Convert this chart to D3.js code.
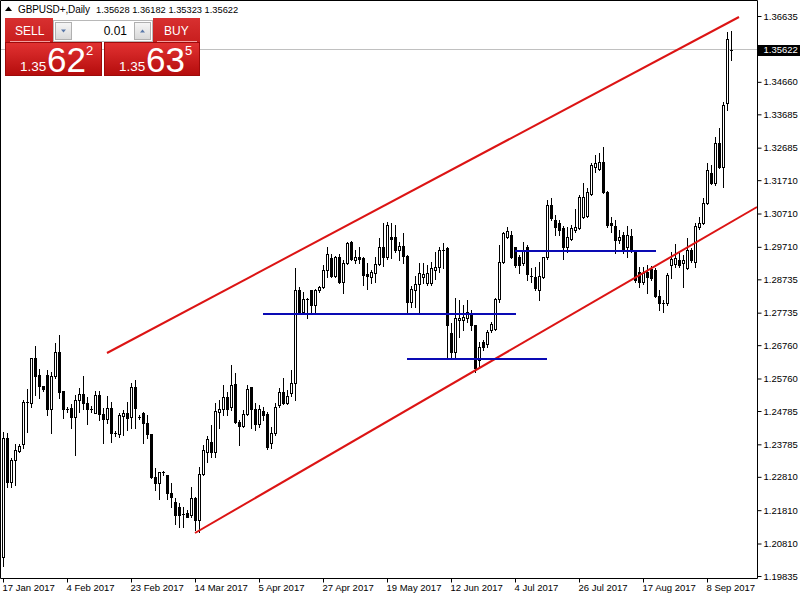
<!DOCTYPE html>
<html><head><meta charset="utf-8">
<script src="https://cdn.jsdelivr.net/npm/d3@7"></script>
<style>body{margin:0;background:#fff}svg{display:block}</style>
</head><body>
<svg id="c" width="800" height="600"></svg>
<script>
// ---------- DATA (GBPUSD+, Daily) ----------
const opens = [
1.2041,1.2398,1.2266,1.2332,1.2359,1.2380,1.2503,1.2503,1.2638,1.2587,
1.2554,1.2587,1.2485,1.2584,1.2656,1.2539,1.2485,1.2488,1.2461,1.2512,
1.2530,1.2503,1.2485,1.2473,1.2527,1.2470,1.2455,1.2488,1.2413,1.2410,
1.2464,1.2473,1.2461,1.2551,1.2461,1.2473,1.2443,1.2410,1.2281,1.2263,
1.2295,1.2287,1.2233,1.2206,1.2191,1.2170,1.2173,1.2167,1.2218,1.2152,
1.2290,1.2356,1.2386,1.2356,1.2476,1.2485,1.2521,1.2491,1.2560,1.2446,
1.2434,1.2470,1.2551,1.2485,1.2440,1.2479,1.2470,1.2383,1.2413,1.2497,
1.2536,1.2503,1.2533,1.2563,1.2842,1.2776,1.2815,1.2842,1.2797,1.2842,
1.2851,1.2902,1.2938,1.2884,1.2941,1.2866,1.2923,1.2986,1.2932,1.2941,
1.2938,1.2890,1.2881,1.2893,1.2920,1.2971,1.2941,1.3001,1.3001,1.2962,
1.2974,1.2944,1.2806,1.2842,1.2860,1.2881,1.2863,1.2863,1.2902,1.2911,
1.2959,1.2968,1.2713,1.2656,1.2752,1.2752,1.2758,1.2767,1.2737,1.2632,
1.2686,1.2680,1.2722,1.2725,1.2815,1.2926,1.3001,1.3007,1.2971,1.2941,
1.2923,1.2971,1.2884,1.2881,1.2842,1.2881,1.2941,1.3097,1.3052,1.3043,
1.3028,1.2971,1.2995,1.3022,1.3028,1.3061,1.3064,1.3130,1.3211,1.3205,
1.3226,1.3136,1.3043,1.3034,1.2992,1.3007,1.2971,1.3004,1.2962,1.2896,
1.2866,1.2896,1.2905,1.2902,1.2824,1.2803,1.2803,1.2917,1.2920,1.2932,
1.2923,1.2908,1.2962,1.2926,1.3031,1.3043,1.3103,1.3193,1.3163,1.3283,
1.3211,1.3403,1.35628];
const highs = [
1.2416,1.2413,1.2338,1.2380,1.2380,1.2512,1.2545,1.2638,1.2674,1.2605,
1.2554,1.2602,1.2596,1.2683,1.2707,1.2539,1.2491,1.2500,1.2527,1.2548,
1.2584,1.2521,1.2494,1.2539,1.2539,1.2488,1.2524,1.2506,1.2419,1.2473,
1.2482,1.2506,1.2563,1.2572,1.2467,1.2476,1.2467,1.2410,1.2308,1.2296,
1.2299,1.2287,1.2263,1.2218,1.2203,1.2191,1.2182,1.2251,1.2221,1.2311,
1.2377,1.2404,1.2437,1.2503,1.2512,1.2557,1.2536,1.2617,1.2593,1.2452,
1.2482,1.2557,1.2551,1.2503,1.2497,1.2491,1.2476,1.2431,1.2503,1.2548,
1.2578,1.2542,1.2602,1.2908,1.2851,1.2836,1.2818,1.2842,1.2845,1.2854,
1.2917,1.2971,1.2950,1.2944,1.2950,1.2932,1.2986,1.2989,1.2962,1.2971,
1.2941,1.2923,1.2902,1.2941,1.2998,1.3043,1.3046,1.3043,1.3037,1.2986,
1.3013,1.2947,1.2854,1.2884,1.2923,1.2923,1.2917,1.2926,1.2956,1.2971,
1.2983,1.2971,1.2743,1.2818,1.2812,1.2797,1.2812,1.2782,1.2737,1.2686,
1.2692,1.2722,1.2746,1.2818,1.2977,1.3016,1.3031,1.3019,1.2971,1.2947,
1.2986,1.2977,1.2908,1.2911,1.2926,1.2941,1.3112,1.3118,1.3067,1.3052,
1.3034,1.3031,1.3037,1.3085,1.3127,1.3163,1.3148,1.3223,1.3247,1.3253,
1.3271,1.3139,1.3061,1.3052,1.3022,1.3016,1.3034,1.3025,1.2962,1.2911,
1.2911,1.2917,1.2914,1.2908,1.2842,1.2812,1.2893,1.2956,1.2980,1.2953,
1.2947,1.2998,1.2968,1.3043,1.3061,1.3118,1.3223,1.3217,1.3301,1.3328,
1.3406,1.3616,1.36182];
const lows = [
1.2014,1.2251,1.2251,1.2257,1.2356,1.2368,1.2416,1.2491,1.2527,1.2518,
1.2539,1.2467,1.2413,1.2578,1.2518,1.2458,1.2476,1.2428,1.2347,1.2476,
1.2485,1.2440,1.2476,1.2473,1.2452,1.2383,1.2443,1.2386,1.2404,1.2401,
1.2407,1.2422,1.2428,1.2428,1.2455,1.2383,1.2398,1.2278,1.2242,1.2215,
1.2287,1.2215,1.2191,1.2140,1.2131,1.2131,1.2161,1.2161,1.2122,1.2116,
1.2287,1.2326,1.2341,1.2341,1.2428,1.2467,1.2467,1.2482,1.2443,1.2377,
1.2431,1.2467,1.2428,1.2422,1.2431,1.2452,1.2365,1.2368,1.2407,1.2491,
1.2500,1.2500,1.2524,1.2512,1.2773,1.2773,1.2758,1.2773,1.2776,1.2836,
1.2848,1.2881,1.2881,1.2881,1.2863,1.2833,1.2920,1.2932,1.2923,1.2923,
1.2857,1.2845,1.2863,1.2866,1.2917,1.2914,1.2935,1.2938,1.2956,1.2932,
1.2923,1.2773,1.2791,1.2791,1.2773,1.2863,1.2857,1.2857,1.2875,1.2896,
1.2908,1.2638,1.2641,1.2641,1.2699,1.2722,1.2746,1.2722,1.2596,1.2611,
1.2662,1.2671,1.2716,1.2722,1.2806,1.2923,1.2998,1.2938,1.2911,1.2893,
1.2917,1.2872,1.2866,1.2842,1.2812,1.2878,1.2935,1.3052,1.3007,1.3007,
1.2935,1.2956,1.2992,1.3016,1.3025,1.3058,1.3061,1.3127,1.3196,1.3202,
1.3133,1.3031,1.3016,1.2953,1.2983,1.2953,1.2941,1.2956,1.2866,1.2851,
1.2860,1.2833,1.2872,1.2821,1.2782,1.2776,1.2797,1.2878,1.2911,1.2911,
1.2851,1.2905,1.2926,1.2911,1.3025,1.3040,1.3100,1.3160,1.3157,1.3208,
1.3151,1.3382,1.35323];
const closes = [
1.2398,1.2266,1.2332,1.2362,1.2374,1.2506,1.2506,1.2638,1.2584,1.2554,
1.2545,1.2485,1.2584,1.2656,1.2536,1.2485,1.2482,1.2461,1.2512,1.2530,
1.2503,1.2485,1.2484,1.2527,1.2470,1.2455,1.2488,1.2413,1.2412,1.2467,
1.2473,1.2458,1.2551,1.2488,1.2460,1.2443,1.2410,1.2281,1.2263,1.2296,
1.2297,1.2233,1.2221,1.2167,1.2167,1.2169,1.2161,1.2218,1.2152,1.2290,
1.2362,1.2395,1.2356,1.2479,1.2485,1.2521,1.2485,1.2557,1.2446,1.2434,
1.2470,1.2545,1.2485,1.2440,1.2485,1.2467,1.2371,1.2413,1.2491,1.2536,
1.2503,1.2524,1.2563,1.2842,1.2776,1.2815,1.2814,1.2797,1.2842,1.2851,
1.2902,1.2950,1.2884,1.2941,1.2866,1.2923,1.2983,1.2935,1.2941,1.2935,
1.2887,1.2884,1.2896,1.2920,1.2971,1.2941,1.3037,1.2995,1.2962,1.2974,
1.2944,1.2806,1.2845,1.2860,1.2893,1.2890,1.2893,1.2908,1.2911,1.2962,
1.2962,1.2737,1.2656,1.2758,1.2758,1.2761,1.2776,1.2737,1.2608,1.2671,
1.2671,1.2716,1.2740,1.2815,1.2926,1.3013,1.3019,1.2941,1.2917,1.2917,
1.2962,1.2890,1.2881,1.2848,1.2884,1.2941,1.3097,1.3058,1.3031,1.3022,
1.2971,1.3001,1.3028,1.3031,1.3121,1.3121,1.3136,1.3217,1.3223,1.3226,
1.3136,1.3037,1.3037,1.2992,1.3001,1.2962,1.3007,1.2962,1.2872,1.2866,
1.2893,1.2881,1.2878,1.2824,1.2803,1.2800,1.2887,1.2935,1.2938,1.2917,
1.2932,1.2962,1.2932,1.3034,1.3043,1.3103,1.3202,1.3163,1.3283,1.3211,
1.3397,1.3595,1.35622];

const dateLabels = ["17 Jan 2017","4 Feb 2017","23 Feb 2017","14 Mar 2017","5 Apr 2017",
  "27 Apr 2017","19 May 2017","12 Jun 2017","4 Jul 2017","26 Jul 2017","17 Aug 2017","8 Sep 2017"];
const barsPerDateLabel = 16;
const priceTicks = [1.36635,1.34660,1.33685,1.32685,1.31710,1.30710,1.29710,1.28735,
  1.27735,1.26760,1.25760,1.24785,1.23785,1.22810,1.21810,1.20810,1.19835];
const priceDomain = [1.19835, 1.36635];
const currentPrice = 1.35622;
const titleSymbol = "GBPUSD+,Daily";
const titleValues = "1.35628 1.36182 1.35323 1.35622";
// trend channel lines: bar index / price anchors
const trendLines = [
  {i1: 26, p1: 1.26525, i2: 184, p2: 1.36605},
  {i1: 48, p1: 1.21125, i2: 188.5, p2: 1.30905}
];
// horizontal support / resistance segments
const levels = [
  {i1: 65, i2: 128.25, p: 1.2771},
  {i1: 101, i2: 136, p: 1.26345},
  {i1: 128, i2: 163.25, p: 1.29585}
];
const lotSize = "0.01";
const sellQuote = {pre: "1.35", big: "62", sup: "2"};
const buyQuote = {pre: "1.35", big: "63", sup: "5"};

// ---------- DRAW ----------
const svg = d3.select("#c");
const FONT = "'Liberation Sans', Arial, sans-serif";
const plotRight = 757.5, plotBottom = 578.5;
const x = d3.scaleLinear().domain([0, opens.length - 1]).range([3, 731]);
const y = d3.scaleLinear().domain(priceDomain).range([576, 16]);

svg.append("rect").attr("width", 800).attr("height", 600).attr("fill", "#fff");

const defs = svg.append("defs");
defs.append("clipPath").attr("id", "plotClip").append("rect")
  .attr("x", 0).attr("y", 0).attr("width", plotRight).attr("height", plotBottom);
const gSell = defs.append("linearGradient").attr("id", "redGrad").attr("x1", 0).attr("y1", 0).attr("x2", 0).attr("y2", 1);
gSell.append("stop").attr("offset", "0%").attr("stop-color", "#e23232");
gSell.append("stop").attr("offset", "100%").attr("stop-color", "#b40c0c");
const gTop = defs.append("linearGradient").attr("id", "redTop").attr("x1", 0).attr("y1", 0).attr("x2", 0).attr("y2", 1);
gTop.append("stop").attr("offset", "0%").attr("stop-color", "#d83030");
gTop.append("stop").attr("offset", "100%").attr("stop-color", "#c81e1e");
const gBtn = defs.append("linearGradient").attr("id", "btnGrad").attr("x1", 0).attr("y1", 0).attr("x2", 0).attr("y2", 1);
gBtn.append("stop").attr("offset", "0%").attr("stop-color", "#f6f6f6");
gBtn.append("stop").attr("offset", "100%").attr("stop-color", "#d8d8d8");

const plot = svg.append("g").attr("clip-path", "url(#plotClip)");

// current price line
const cpY = Math.floor(y(currentPrice)) + 0.5;
plot.append("line").attr("x1", 0).attr("x2", plotRight).attr("y1", cpY).attr("y2", cpY)
  .attr("stroke", "#c0c0c0").attr("stroke-width", 1);

// candles
const bars = d3.range(opens.length).map(i => ({i, o: opens[i], h: highs[i], l: lows[i], c: closes[i]}));
const cg = plot.append("g");
bars.forEach(b => {
  const cx = Math.round(x(b.i));
  const yh = Math.round(y(b.h)), yl = Math.round(y(b.l));
  const top = Math.round(y(Math.max(b.o, b.c))), bot = Math.round(y(Math.min(b.o, b.c)));
  cg.append("line").attr("x1", cx + 0.5).attr("x2", cx + 0.5).attr("y1", yh).attr("y2", yl + 1)
    .attr("stroke", "#000").attr("stroke-width", 1);
  const hgt = bot - top;
  if (hgt <= 1) {
    cg.append("rect").attr("x", cx - 1).attr("y", top).attr("width", 3).attr("height", 1).attr("fill", "#000");
  } else if (b.c >= b.o) {
    cg.append("rect").attr("x", cx - 0.5).attr("y", top + 0.5).attr("width", 2).attr("height", hgt)
      .attr("fill", "#fff").attr("stroke", "#000").attr("stroke-width", 1);
  } else {
    cg.append("rect").attr("x", cx - 1).attr("y", top).attr("width", 3).attr("height", hgt + 1).attr("fill", "#000");
  }
});

// trend lines
plot.selectAll("line.trend").data(trendLines).enter().append("line").attr("class", "trend")
  .attr("x1", d => x(d.i1)).attr("y1", d => y(d.p1)).attr("x2", d => x(d.i2)).attr("y2", d => y(d.p2))
  .attr("stroke", "#dc1414").attr("stroke-width", 2);

// horizontal levels
plot.selectAll("line.level").data(levels).enter().append("line").attr("class", "level")
  .attr("x1", d => x(d.i1)).attr("x2", d => x(d.i2))
  .attr("y1", d => Math.round(y(d.p))).attr("y2", d => Math.round(y(d.p)))
  .attr("stroke", "#0a0ab4").attr("stroke-width", 2);

// frame
svg.append("path").attr("d", `M0.5,${plotBottom}V0.5H${plotRight}V${plotBottom}H0.5`)
  .attr("fill", "none").attr("stroke", "#000").attr("stroke-width", 1);

// price axis
const yAxis = d3.axisRight(y).tickValues(priceTicks).tickFormat(d3.format(".5f")).tickSize(4).tickPadding(2).tickSizeOuter(0);
const ya = svg.append("g").attr("transform", `translate(${plotRight},0)`).call(yAxis);
ya.select(".domain").remove();
ya.attr("font-family", FONT).attr("font-size", 9.5);
ya.selectAll("text").attr("fill", "#000");
ya.selectAll("line").attr("stroke", "#000");

// current price box
const cpg = svg.append("g");
cpg.append("rect").attr("x", 758).attr("y", Math.round(y(currentPrice)) - 5).attr("width", 42).attr("height", 11).attr("fill", "#000");
cpg.append("text").attr("x", 763.5).attr("y", y(currentPrice)).attr("dy", "0.34em")
  .attr("font-family", FONT).attr("font-size", 9.5).attr("fill", "#fff").text(d3.format(".5f")(currentPrice));

// time axis
const dateIdx = dateLabels.map((d, k) => k * barsPerDateLabel);
const xAxis = d3.axisBottom(x).tickValues(dateIdx).tickFormat((d, k) => dateLabels[k]).tickSize(4).tickSizeOuter(0);
const xa = svg.append("g").attr("transform", `translate(0,${plotBottom})`).call(xAxis);
xa.select(".domain").remove();
xa.attr("font-family", FONT).attr("font-size", 9.5);
xa.selectAll("text").attr("text-anchor", "start").attr("dx", "-1").attr("y", 6).attr("fill", "#000");
xa.selectAll("line").attr("stroke", "#000");

// title
svg.append("path").attr("d", "M5,11L8.5,6.5L12,11Z").attr("fill", "#000");
svg.append("text").attr("x", 18).attr("y", 13).attr("font-family", FONT).attr("font-size", 10)
  .attr("textLength", 72).attr("fill", "#000").text(titleSymbol);
svg.append("text").attr("x", 96).attr("y", 13).attr("font-family", FONT).attr("font-size", 9.3)
  .attr("fill", "#000").text(titleValues);

// trading panel
const p = svg.append("g");
p.append("rect").attr("x", 5).attr("y", 18).attr("width", 48).attr("height", 24).attr("fill", "url(#redTop)");
p.append("rect").attr("x", 153).attr("y", 18).attr("width", 47).attr("height", 24).attr("fill", "url(#redTop)");
p.append("rect").attr("x", 53).attr("y", 18).attr("width", 100).attr("height", 24).attr("fill", "#fff");
p.append("rect").attr("x", 53.5).attr("y", 20.5).attr("width", 99).attr("height", 21).attr("fill", "#fff").attr("stroke", "#b8b8b8");
p.append("rect").attr("x", 55.5).attr("y", 22.5).attr("width", 16).attr("height", 17).attr("fill", "url(#btnGrad)").attr("stroke", "#b0b0b0");
p.append("rect").attr("x", 134.5).attr("y", 22.5).attr("width", 16).attr("height", 17).attr("fill", "url(#btnGrad)").attr("stroke", "#b0b0b0");
p.append("path").attr("d", "M61,29.5H66L63.5,32.5Z").attr("fill", "#5a78a8");
p.append("path").attr("d", "M140,32.5H145L142.5,29.5Z").attr("fill", "#5a78a8");
p.append("text").attr("x", 127).attr("y", 35).attr("text-anchor", "end").attr("font-family", FONT)
  .attr("font-size", 12).attr("fill", "#000").text(lotSize);
p.append("text").attr("x", 15).attr("y", 35).attr("font-family", FONT).attr("font-size", 12).attr("fill", "#fff").text("SELL");
p.append("text").attr("x", 164).attr("y", 35).attr("font-family", FONT).attr("font-size", 12).attr("fill", "#fff").text("BUY");
p.append("line").attr("x1", 10).attr("x2", 50).attr("y1", 41.5).attr("y2", 41.5).attr("stroke", "#f2a0a0");
p.append("line").attr("x1", 157).attr("x2", 197).attr("y1", 41.5).attr("y2", 41.5).attr("stroke", "#f2a0a0");

function quote(x0, w, q) {
  p.append("rect").attr("x", x0 + 0.5).attr("y", 42.5).attr("width", w - 1).attr("height", 33)
    .attr("fill", "url(#redGrad)").attr("stroke", "#9e0a0a");
  p.append("text").attr("x", x0 + 15).attr("y", 71).attr("font-family", FONT).attr("font-size", 13.5)
    .attr("fill", "#fff").text(q.pre);
  p.append("text").attr("x", x0 + 42).attr("y", 72).attr("font-family", FONT).attr("font-size", 35)
    .attr("fill", "#fff").text(q.big);
  p.append("text").attr("x", x0 + 81).attr("y", 55).attr("font-family", FONT).attr("font-size", 13)
    .attr("fill", "#fff").text(q.sup);
}
quote(5, 97, sellQuote);
quote(104, 96, buyQuote);
</script>
</body></html>
